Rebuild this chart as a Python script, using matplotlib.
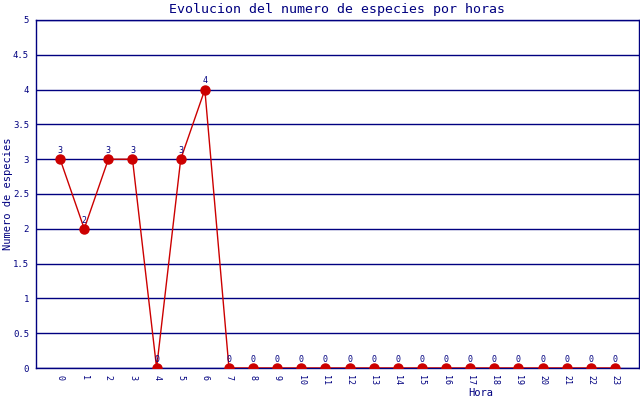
import matplotlib
matplotlib.use("Agg")
import matplotlib.pyplot as plt

horas = list(range(24))
especies = [3, 2, 3, 3, 0, 3, 4, 0, 0, 0, 0, 0, 0, 0, 0, 0, 0, 0, 0, 0, 0, 0, 0, 0]
yticks = [0, 0.5, 1, 1.5, 2, 2.5, 3, 3.5, 4, 4.5, 5]
ytick_labels = ["0", "0.5", "1", "1.5", "2", "2.5", "3", "3.5", "4", "4.5", "5"]

navy = "#000080"
rojo = "#cc0000"
plt.rcParams['font.family'] = ['DejaVu Sans Mono']

fig = plt.figure(figsize=(6.4, 4), dpi=100)
ax = fig.add_axes([36/640, 32/400, 603/640, 348/400])

for y in yticks:
    ax.axhline(y, color=navy, lw=1, zorder=1)

ax.plot(horas, especies, color=rojo, lw=1, marker="o", markersize=6.5,
        markerfacecolor=rojo, markeredgecolor=rojo, zorder=3)
for h, e in zip(horas, especies):
    ax.text(h, e + 0.06, str(e), ha="center", va="bottom", fontsize=6, color=navy, zorder=4)

ax.set_xlim(-1, 24)
ax.set_ylim(0, 5)
ax.set_xticks(horas)
ax.set_xticklabels([str(h) for h in horas], rotation=270, fontsize=6, color=navy)
ax.set_yticks(yticks)
ax.set_yticklabels(ytick_labels, fontsize=6.5, color=navy)
ax.tick_params(length=0, pad=5)
for s in ax.spines.values():
    s.set_color(navy)
    s.set_linewidth(1)

fig.text(337/640, 1 - 10/400, "Evolucion del numero de especies por horas",
         ha="center", va="center", fontsize=9.5, color=navy)
fig.text(8/640, 1 - 194/400, "Numero de especies", rotation=90,
         ha="center", va="center", fontsize=7.5, color=navy)
fig.text(481/640, 1 - 393/400, "Hora", ha="center", va="center", fontsize=7.5, color=navy)

fig.savefig("out.png", dpi=100)
